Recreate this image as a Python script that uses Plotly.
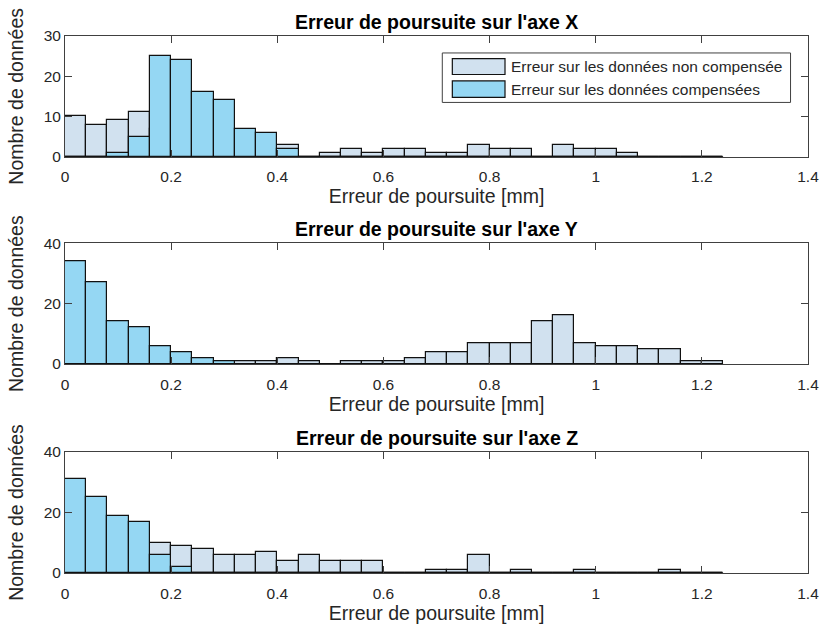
import numpy as np
import plotly.graph_objects as go

# ---- data ----
bin_width = 0.04
bin_edges = np.round(np.arange(0, 1.24 + 1e-9, bin_width), 2)  # 31 bins, 0 -> 1.24
bin_centers = (bin_edges[:-1] + bin_edges[1:]) / 2

x_non_comp = [10, 8, 9, 11, 7, 8, 6, 5, 4, 3, 3, 0, 1, 2, 1, 2, 2, 1, 1, 3, 2, 2, 0, 3, 2, 2, 1, 0, 0, 0, 0]
x_comp     = [0, 0, 1, 5, 25, 24, 16, 14, 7, 6, 2, 0, 0, 0, 0, 0, 0, 0, 0, 0, 0, 0, 0, 0, 0, 0, 0, 0, 0, 0, 0]

y_non_comp = [0, 0, 0, 0, 0, 0, 0, 0, 1, 1, 2, 1, 0, 1, 1, 1, 2, 4, 4, 7, 7, 7, 14, 16, 7, 6, 6, 5, 5, 1, 1]
y_comp     = [34, 27, 14, 12, 6, 4, 2, 1, 0, 0, 0, 0, 0, 0, 0, 0, 0, 0, 0, 0, 0, 0, 0, 0, 0, 0, 0, 0, 0, 0, 0]

z_non_comp = [9, 6, 4, 2, 10, 9, 8, 6, 6, 7, 4, 6, 4, 4, 4, 0, 0, 1, 1, 6, 0, 1, 0, 0, 1, 0, 0, 0, 1, 0, 0]
z_comp     = [31, 25, 19, 17, 6, 2, 0, 0, 0, 0, 0, 0, 0, 0, 0, 0, 0, 0, 0, 0, 0, 0, 0, 0, 0, 0, 0, 0, 0, 0, 0]

titles = ["Erreur de poursuite sur l'axe X",
          "Erreur de poursuite sur l'axe Y",
          "Erreur de poursuite sur l'axe Z"]
y_ranges = [[0, 30], [0, 40], [0, 40]]
y_ticks = [[0, 10, 20, 30], [0, 20, 40], [0, 20, 40]]
x_ticks = [0, 0.2, 0.4, 0.6, 0.8, 1.0, 1.2, 1.4]
x_label = "Erreur de poursuite [mm]"
y_label = "Nombre de données"
legend_labels = ["Erreur sur les données non compensée",
                 "Erreur sur les données compensées"]

# ---- style ----
LIGHT = "#d1e1ef"
BLUE = "#95d7f3"
EDGE = "#111111"
AX = "#404040"
TXT = "#262626"
FONT = "Liberation Sans, Arial, Helvetica, sans-serif"
TICK_SIZE = 15.5
LABEL_SIZE = 19.5
TITLE_SIZE = 19.5
LEG_SIZE = 15.5

W, H = 822, 632
ml, mr, mt, mb = 65, 14, 36, 59
ph = H - mt - mb
# pixel top/bottom of each axes box
boxes = [(35.7, 156.7), (243.3, 364.0), (452.0, 573.0)]
domains = [[(H - mb - b) / ph, (H - mb - t) / ph] for (t, b) in boxes]
domains = [[max(0, d0), min(1, d1)] for d0, d1 in domains]

fig = go.Figure()
series = [(x_non_comp, x_comp), (y_non_comp, y_comp), (z_non_comp, z_comp)]
for i, (nc, c) in enumerate(series):
    xa = "x" if i == 0 else f"x{i+1}"
    ya = "y" if i == 0 else f"y{i+1}"
    fig.add_trace(go.Bar(x=bin_centers, y=nc, width=bin_width, marker=dict(color=LIGHT, line=dict(color=EDGE, width=1.2)),
                         name=legend_labels[0], showlegend=False, xaxis=xa, yaxis=ya))
    fig.add_trace(go.Bar(x=bin_centers, y=c, width=bin_width, marker=dict(color=BLUE, line=dict(color=EDGE, width=1.2)),
                         name=legend_labels[1], showlegend=False, xaxis=xa, yaxis=ya))
    # zero-count bins are drawn as a line on the baseline
    fig.add_trace(go.Scatter(x=[bin_edges[0], bin_edges[-1]], y=[0, 0], mode="lines",
                             line=dict(color=EDGE, width=1.2), showlegend=False, hoverinfo="skip",
                             xaxis=xa, yaxis=ya))

layout = dict(
    width=W, height=H, margin=dict(l=ml, r=mr, t=mt, b=mb),
    barmode="overlay", bargap=0,
    paper_bgcolor="white", plot_bgcolor="white",
    font=dict(family=FONT, color=TXT, size=TICK_SIZE),
    showlegend=False,
)
annotations = []
shapes = []
for i in range(3):
    sfx = "" if i == 0 else str(i + 1)
    layout["xaxis" + sfx] = dict(
        domain=[0, 1], anchor="y" + sfx, range=[0, 1.4], tickvals=x_ticks,
        ticks="inside", ticklen=7, tickcolor=AX, tickwidth=1,
        showline=True, linecolor=AX, linewidth=1, mirror="ticks",
        showgrid=False, zeroline=False, tickfont=dict(size=TICK_SIZE, color=TXT),
        ticklabelstandoff=6,
        title=dict(text=x_label, font=dict(size=LABEL_SIZE, color=TXT), standoff=0),
        automargin=False, fixedrange=True,
    )
    layout["yaxis" + sfx] = dict(
        domain=domains[i], anchor="x" + sfx, range=y_ranges[i], tickvals=y_ticks[i],
        ticks="inside", ticklen=7, tickcolor=AX, tickwidth=1,
        showline=True, linecolor=AX, linewidth=1, mirror="ticks",
        showgrid=False, zeroline=False, tickfont=dict(size=TICK_SIZE, color=TXT),
        title=dict(text=y_label, font=dict(size=LABEL_SIZE, color=TXT), standoff=14),
        automargin=False, fixedrange=True,
    )
    annotations.append(dict(
        text="<b>" + titles[i] + "</b>", xref="x" + sfx + " domain", yref="y" + sfx + " domain",
        x=0.5, y=1, xanchor="center", yanchor="bottom", yshift=1, showarrow=False,
        font=dict(size=TITLE_SIZE, color="#000000", family=FONT)))

# legend box (drawn in first axes)
lb = dict(xref="x domain", yref="y domain")
shapes.append(dict(type="rect", x0=0.5078, x1=0.9765, y0=0.4496, y1=0.8595,
                   line=dict(color=AX, width=1), fillcolor="white", layer="above", **lb))
sw_y = [(0.681, 0.813), (0.491, 0.628)]
sw_col = [LIGHT, BLUE]
txt_y = [0.747, 0.5595]
for k in range(2):
    shapes.append(dict(type="rect", x0=0.5213, x1=0.5922, y0=sw_y[k][0], y1=sw_y[k][1],
                       line=dict(color=EDGE, width=1.2), fillcolor=sw_col[k], layer="above", **lb))
    annotations.append(dict(text=legend_labels[k], x=0.5975, y=txt_y[k], xanchor="left", yanchor="middle",
                            showarrow=False, font=dict(size=LEG_SIZE, color=TXT, family=FONT), **lb))

layout["annotations"] = annotations
layout["shapes"] = shapes
fig.update_layout(**layout)
fig.write_html("out.html", config={"displayModeBar": False},
               post_script="document.body.style.margin='0';document.body.style.overflow='hidden';")
